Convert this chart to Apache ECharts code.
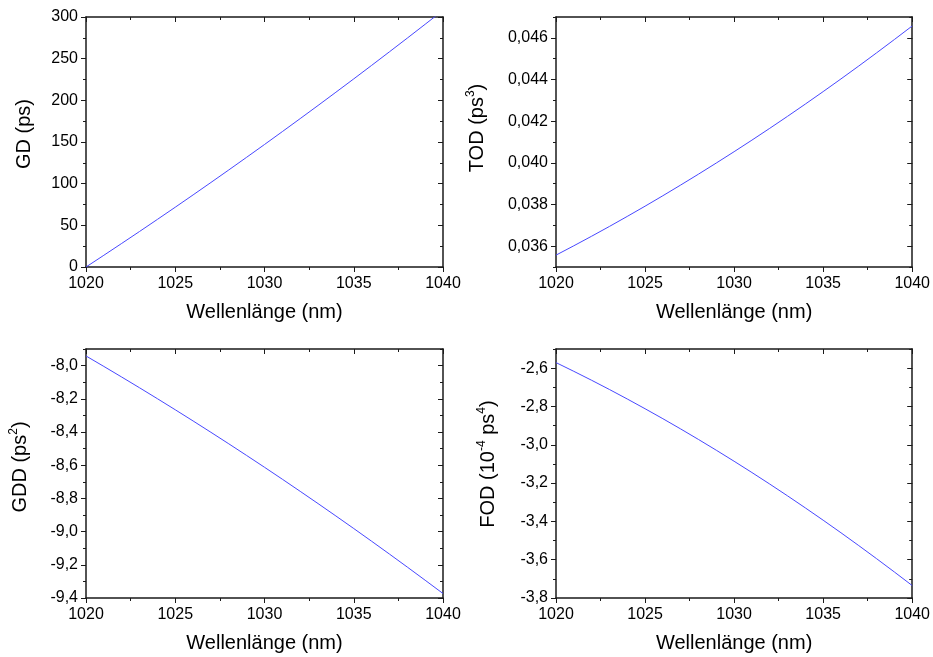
<!DOCTYPE html>
<html>
<head>
<meta charset="utf-8">
<script src="https://cdn.jsdelivr.net/npm/echarts@6/dist/echarts.min.js"></script>
<style>
html,body{margin:0;padding:0;background:#fff;}
#chart{width:933px;height:657px;}
</style>
</head>
<body>
<div id="chart"></div>
<script>
// ---- data ----
const wavelength = [1020,1021,1022,1023,1024,1025,1026,1027,1028,1029,1030,1031,1032,1033,1034,1035,1036,1037,1038,1039,1040];
const gdValues = [0,14.07,28.28,42.63,57.12,71.75,86.52,101.43,116.48,131.67,147.0,162.47,178.08,193.83,209.72,225.75,241.92,258.23,274.68,291.27,308.0];
const todValues = [0.03557,0.036018,0.036477,0.036947,0.037428,0.037919,0.038421,0.038934,0.039457,0.039991,0.040535,0.04109,0.041656,0.042233,0.042821,0.043419,0.044028,0.044648,0.045279,0.04592,0.04657];
const gddValues = [-7.942,-8.005,-8.0689,-8.1337,-8.1994,-8.266,-8.3335,-8.4019,-8.4712,-8.5414,-8.6125,-8.6845,-8.7574,-8.8312,-8.9059,-8.9815,-9.058,-9.1354,-9.2137,-9.2929,-9.373];
const fodValues = [-2.571,-2.6165,-2.6633,-2.7114,-2.7609,-2.8118,-2.8639,-2.9174,-2.9723,-3.0285,-3.086,-3.1449,-3.2051,-3.2667,-3.3296,-3.3938,-3.4594,-3.5264,-3.5947,-3.6643,-3.735];

const xTicks = [1020,1025,1030,1035,1040];
const gdTicks = [0,50,100,150,200,250,300];
const todTicks = [0.036,0.038,0.040,0.042,0.044,0.046];
const gddTicks = [-9.4,-9.2,-9.0,-8.8,-8.6,-8.4,-8.2,-8.0];
const fodTicks = [-3.8,-3.6,-3.4,-3.2,-3.0,-2.8,-2.6];

const xTitle = 'Wellenlänge (nm)';
const gdTitle = 'GD (ps)';
const todTitle = 'TOD (ps{s|3})';
const gddTitle = 'GDD (ps{s|2})';
const fodTitle = 'FOD (10{s|-4} ps{s|4})';

// ---- layout ----
const FONT = '"Liberation Sans", Arial, sans-serif';
const LINE = '#1a1a1a';
const panels = [
  {grid:{left:86, top:17, width:357, height:250}, x:{min:1020,max:1040,ticks:xTicks,minor:2.5},
   y:{min:0,max:300,ticks:gdTicks,minor:25,fmt:v=>String(Math.round(v)),title:gdTitle,gap:50,shift:16}, data:gdValues},
  {grid:{left:556, top:17, width:357, height:250}, x:{min:1020,max:1040,ticks:xTicks,minor:2.5},
   y:{min:0.035,max:0.047,ticks:todTicks,minor:0.001,fmt:v=>v.toFixed(3).replace('.',','),title:todTitle,gap:67,shift:28}, data:todValues},
  {grid:{left:86, top:349, width:357, height:249}, x:{min:1020,max:1040,ticks:xTicks,minor:2.5},
   y:{min:-9.4,max:-7.9,ticks:gddTicks,minor:0.1,fmt:v=>v.toFixed(1).replace('.',','),title:gddTitle,gap:54,shift:13}, data:gddValues},
  {grid:{left:556, top:349, width:358, height:249}, x:{min:1020,max:1040,ticks:xTicks,minor:2.5},
   y:{min:-3.8,max:-2.5,ticks:fodTicks,minor:0.1,fmt:v=>v.toFixed(1).replace('.',','),title:fodTitle,gap:56,shift:19}, data:fodValues}
];

const grids = [], xAxes = [], yAxes = [], series = [];
const labelStyle = {color:'#000', fontFamily:FONT, fontSize:16};

panels.forEach((p, gi) => {
  grids.push(Object.assign({show:false}, p.grid));
  const xBase = xAxes.length, yBase = yAxes.length;
  const xCommon = {type:'value', gridIndex:gi, min:p.x.min, max:p.x.max, splitLine:{show:false}};
  xAxes.push(Object.assign({}, xCommon, {position:'bottom',
    axisLine:{show:true, onZero:false, lineStyle:{color:LINE, width:1.5}},
    axisTick:{show:true, inside:false, length:5, customValues:p.x.ticks, lineStyle:{color:LINE, width:1}},
    axisLabel:{show:true, margin:9, customValues:p.x.ticks, formatter:v=>String(v), ...labelStyle},
    name:xTitle, nameLocation:'middle', nameGap:35, nameTextStyle:{color:'#000', fontFamily:FONT, fontSize:20}}));
  xAxes.push(Object.assign({}, xCommon, {position:'bottom', interval:p.x.minor,
    axisLine:{show:false, onZero:false}, axisTick:{show:true, inside:false, length:3, lineStyle:{color:LINE, width:1}},
    axisLabel:{show:false}}));
  xAxes.push(Object.assign({}, xCommon, {position:'top',
    axisLine:{show:true, onZero:false, lineStyle:{color:LINE, width:1.5}},
    axisTick:{show:true, inside:true, length:5, customValues:p.x.ticks, lineStyle:{color:LINE, width:1}},
    axisLabel:{show:false}}));
  xAxes.push(Object.assign({}, xCommon, {position:'top', interval:p.x.minor,
    axisLine:{show:false, onZero:false}, axisTick:{show:true, inside:true, length:3, lineStyle:{color:LINE, width:1}},
    axisLabel:{show:false}}));
  const yCommon = {type:'value', gridIndex:gi, min:p.y.min, max:p.y.max, splitLine:{show:false}};
  yAxes.push(Object.assign({}, yCommon, {position:'left',
    axisLine:{show:true, onZero:false, lineStyle:{color:LINE, width:1.5}},
    axisTick:{show:true, inside:false, length:5, customValues:p.y.ticks, lineStyle:{color:LINE, width:1}},
    axisLabel:{show:true, margin:8, customValues:p.y.ticks, formatter:p.y.fmt, ...labelStyle},
    name:p.y.title, nameLocation:'middle', nameRotate:90, nameGap:p.y.gap,
    nameTextStyle:{color:'#000', fontFamily:FONT, fontSize:20, lineHeight:24, padding:[0,0,0,p.y.shift],
      rich:{s:{fontFamily:FONT, fontSize:12, color:'#000', verticalAlign:'top', lineHeight:24}}}}));
  yAxes.push(Object.assign({}, yCommon, {position:'left', interval:p.y.minor,
    axisLine:{show:false, onZero:false}, axisTick:{show:true, inside:false, length:3, lineStyle:{color:LINE, width:1}},
    axisLabel:{show:false}}));
  yAxes.push(Object.assign({}, yCommon, {position:'right',
    axisLine:{show:true, onZero:false, lineStyle:{color:LINE, width:1.5}},
    axisTick:{show:true, inside:true, length:5, customValues:p.y.ticks, lineStyle:{color:LINE, width:1}},
    axisLabel:{show:false}}));
  yAxes.push(Object.assign({}, yCommon, {position:'right', interval:p.y.minor,
    axisLine:{show:false, onZero:false}, axisTick:{show:true, inside:true, length:3, lineStyle:{color:LINE, width:1}},
    axisLabel:{show:false}}));
  series.push({type:'line', xAxisIndex:xBase, yAxisIndex:yBase, showSymbol:false, symbol:'none',
    clip:true, animation:false, lineStyle:{color:'#4848ff', width:1},
    data: wavelength.map((w,i)=>[w, p.data[i]])});
});

const chart = echarts.init(document.getElementById('chart'), null, {renderer:'canvas'});
chart.setOption({animation:false, backgroundColor:'#fff', grid:grids, xAxis:xAxes, yAxis:yAxes, series:series});
</script>
</body>
</html>
